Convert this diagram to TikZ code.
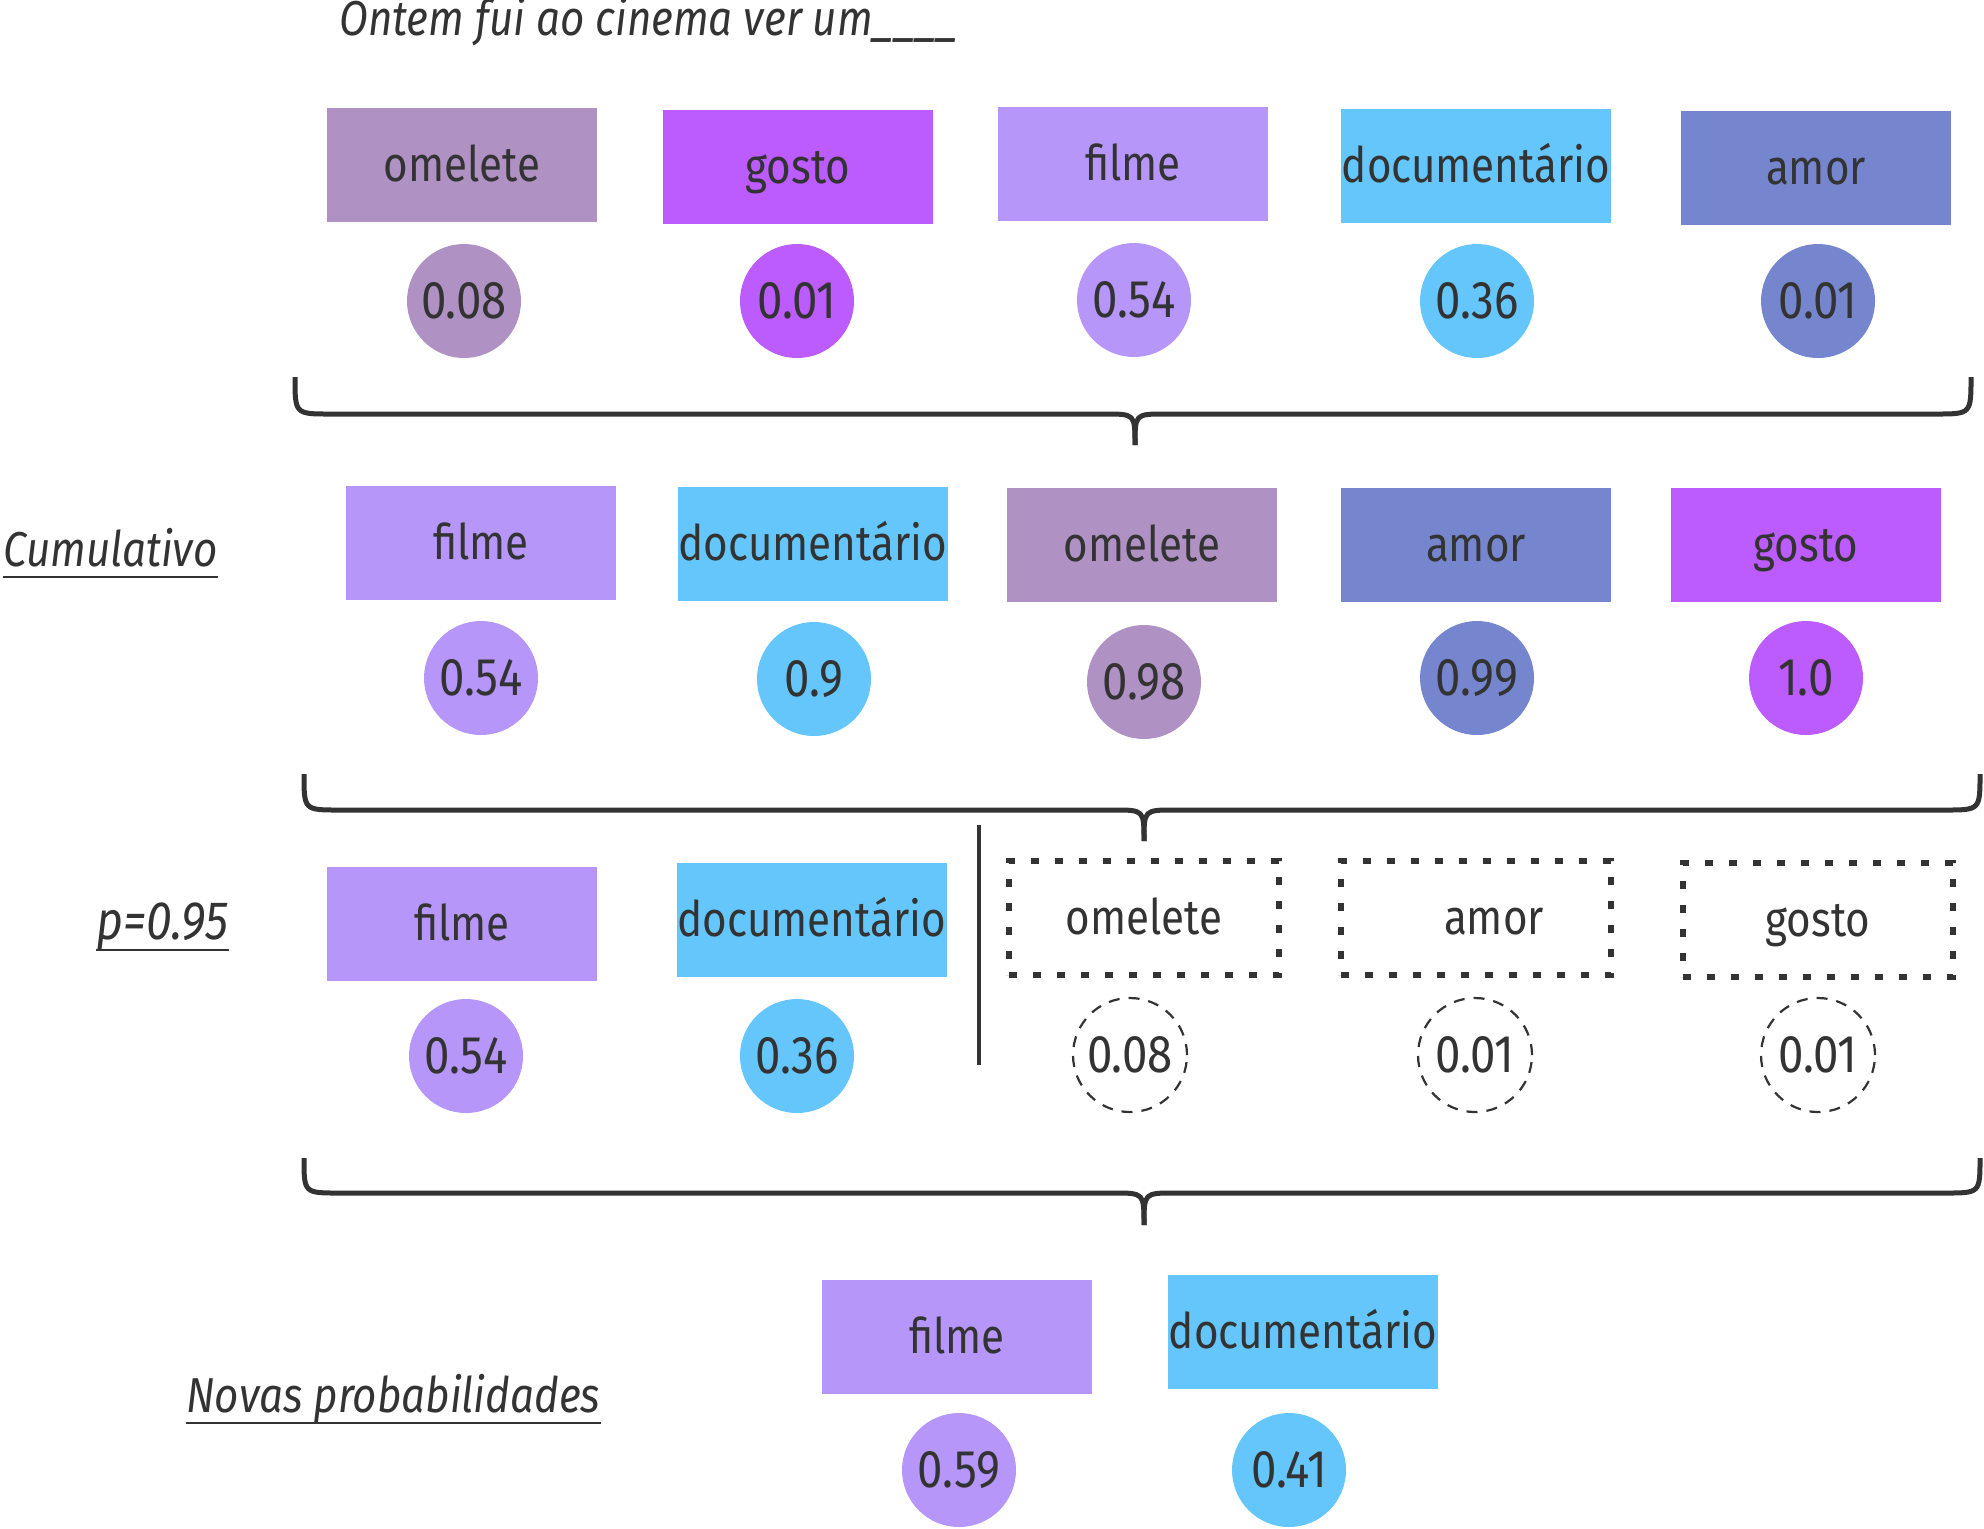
\documentclass[tikz,border=0pt]{standalone}
\usepackage{fontspec}
\setmainfont{Fira Sans}[FakeStretch=0.86]
\definecolor{cOme}{HTML}{AF91C3}
\definecolor{cGos}{HTML}{BC5BFE}
\definecolor{cFil}{HTML}{B696F9}
\definecolor{cDoc}{HTML}{64C6FB}
\definecolor{cAmo}{HTML}{7686CE}
\definecolor{ink}{HTML}{333333}
\begin{document}
\begin{tikzpicture}[x=0.5pt,y=-0.5pt,
  every node/.style={text=ink,font=\fontsize{24.5}{28}\selectfont},
  wbox/.style={rectangle,minimum width=135pt,minimum height=57pt,inner sep=0pt,text height=19pt,text depth=3pt},
  pcirc/.style={circle,minimum size=57pt,inner sep=0pt,font=\fontsize{26.5}{30}\selectfont},
  dbox/.style={rectangle,minimum width=135pt,minimum height=57pt,inner sep=0pt,text height=19pt,text depth=3pt,draw=ink,line width=2.6pt,dash pattern=on 4pt off 8pt},
  dcirc/.style={circle,minimum size=57pt,inner sep=0pt,draw=ink,line width=1.1pt,dash pattern=on 5.5pt off 4.5pt,font=\fontsize{26.5}{30}\selectfont},
  bracestyle/.style={draw=ink,line width=2.5pt},
  lab/.style={inner sep=0pt,font=\fontsize{24.5}{28}\selectfont\itshape},
  ul/.style={draw=ink,line width=1pt}]
\useasboundingbox (0,0) rectangle (1984,1528);

% title
\node[lab,anchor=west] (title) at (339,22) {Ontem fui ao cinema ver um\_\_\_\_};

% row 1
\node[wbox,fill=cOme] (r1a) at (462,165) {omelete};
\node[wbox,fill=cGos] (r1b) at (798,167) {gosto};
\node[wbox,fill=cFil] (r1c) at (1133,164) {filme};
\node[wbox,fill=cDoc] (r1d) at (1476,166) {documentário};
\node[wbox,fill=cAmo] (r1e) at (1816,168) {amor};
\node[pcirc,fill=cOme] (p1a) at (464,301) {0.08};
\node[pcirc,fill=cGos] (p1b) at (797,301) {0.01};
\node[pcirc,fill=cFil] (p1c) at (1134,300) {0.54};
\node[pcirc,fill=cDoc] (p1d) at (1477,301) {0.36};
\node[pcirc,fill=cAmo] (p1e) at (1818,301) {0.01};

% brace 1
\coordinate (b1l) at (295,377);
\coordinate (b1m) at (1135,445);
\coordinate (b1r) at (1971,377);
\draw[bracestyle] (b1l) .. controls (295,414) and (295,414) .. (330,414) -- (1105,414) .. controls (1135,414) and (1135,414) .. (b1m);
\draw[bracestyle] (b1m) .. controls (1135,414) and (1135,414) .. (1165,414) -- (1936,414) .. controls (1971,414) and (1971,414) .. (b1r);

% row 2
\node[lab,anchor=west] (cum) at (3,548) {Cumulativo};
\draw[ul] ([yshift=-5pt]cum.base west) -- ([yshift=-5pt]cum.base east);
\node[wbox,fill=cFil] (r2a) at (481,543) {filme};
\node[wbox,fill=cDoc] (r2b) at (813,544) {documentário};
\node[wbox,fill=cOme] (r2c) at (1142,545) {omelete};
\node[wbox,fill=cAmo] (r2d) at (1476,545) {amor};
\node[wbox,fill=cGos] (r2e) at (1806,545) {gosto};
\node[pcirc,fill=cFil] (p2a) at (481,678) {0.54};
\node[pcirc,fill=cDoc] (p2b) at (814,679) {0.9};
\node[pcirc,fill=cOme] (p2c) at (1144,682) {0.98};
\node[pcirc,fill=cAmo] (p2d) at (1477,678) {0.99};
\node[pcirc,fill=cGos] (p2e) at (1806,678) {1.0};

% brace 2
\coordinate (b2l) at (304,774);
\coordinate (b2m) at (1144,841);
\coordinate (b2r) at (1980,774);
\draw[bracestyle] (b2l) .. controls (304,810) and (304,810) .. (339,810) -- (1114,810) .. controls (1144,810) and (1144,810) .. (b2m);
\draw[bracestyle] (b2m) .. controls (1144,810) and (1144,810) .. (1174,810) -- (1945,810) .. controls (1980,810) and (1980,810) .. (b2r);

% row 3
\node[lab,anchor=west,font=\fontsize{27}{30}\selectfont\itshape] (pp) at (96,927) {p=0.95};
\draw[ul] ([yshift=-5pt]pp.base west) -- ([yshift=-5pt]pp.base east);
\node[wbox,fill=cFil] (r3a) at (462,924) {filme};
\node[wbox,fill=cDoc] (r3b) at (812,920) {documentário};
\coordinate (vt) at (979,825);
\coordinate (vb) at (979,1065);
\draw[draw=ink,line width=1.6pt] (vt) -- (vb);
\node[dbox] (r3c) at (1144,918) {omelete};
\node[dbox] (r3d) at (1476,918) {\hspace*{18pt}amor};
\node[dbox] (r3e) at (1818,920) {gosto};
\node[pcirc,fill=cFil] (p3a) at (466,1056) {0.54};
\node[pcirc,fill=cDoc] (p3b) at (797,1056) {0.36};
\node[dcirc] (p3c) at (1130,1055) {0.08};
\node[dcirc] (p3d) at (1475,1055) {0.01};
\node[dcirc] (p3e) at (1818,1055) {0.01};

% brace 3
\coordinate (b3l) at (304,1158);
\coordinate (b3m) at (1144,1225);
\coordinate (b3r) at (1980,1158);
\draw[bracestyle] (b3l) .. controls (304,1193) and (304,1193) .. (339,1193) -- (1114,1193) .. controls (1144,1193) and (1144,1193) .. (b3m);
\draw[bracestyle] (b3m) .. controls (1144,1193) and (1144,1193) .. (1174,1193) -- (1945,1193) .. controls (1980,1193) and (1980,1193) .. (b3r);

% row 4
\node[lab,anchor=west] (nov) at (186,1399) {Novas probabilidades};
\draw[ul] ([yshift=-5pt]nov.base west) -- ([yshift=-5pt]nov.base east);
\node[wbox,fill=cFil] (r4a) at (957,1337) {filme};
\node[wbox,fill=cDoc] (r4b) at (1303,1332) {documentário};
\node[pcirc,fill=cFil] (p4a) at (959,1470) {0.59};
\node[pcirc,fill=cDoc] (p4b) at (1289,1470) {0.41};
\end{tikzpicture}
\end{document}
